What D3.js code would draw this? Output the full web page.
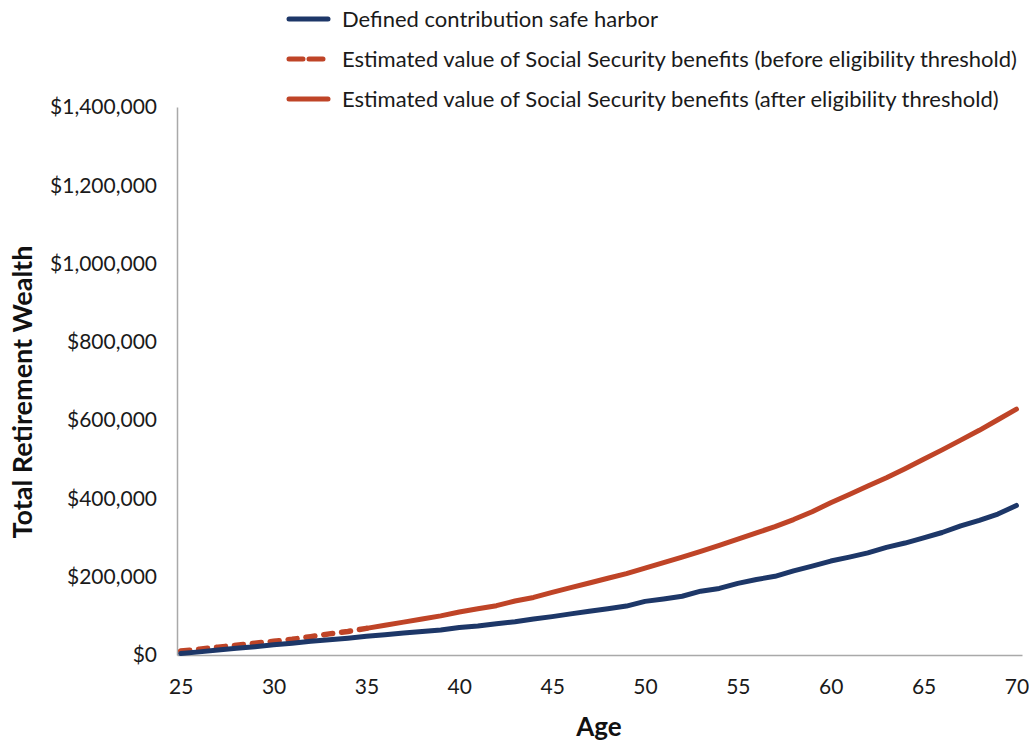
<!DOCTYPE html>
<html>
<head>
<meta charset="utf-8">
<script src="https://cdn.jsdelivr.net/npm/d3@7"></script>
<style>
  html, body { margin: 0; padding: 0; background: #fff; }
  svg { display: block; font-family: Lato, "Noto Sans", sans-serif; }
</style>
</head>
<body>
<svg id="chart" width="1029" height="742"></svg>
<script>
// Ages on the horizontal axis
const ages = d3.range(25, 71);

// Defined contribution safe harbor wealth by age ($)
const dcSafeHarbor = [
  4000, 8000, 13000, 17000, 21000, 26000, 30000, 35000, 39000, 43000,
  48000, 52000, 56000, 60000, 64000, 70000, 74000, 80000, 85000, 92000,
  98000, 105000, 112000, 118000, 125000, 137000, 143000, 150000, 163000, 170000,
  183000, 193000, 201000, 215000, 227000, 240000, 250000, 261000, 275000, 286000,
  299000, 313000, 330000, 344000, 360000, 382000
];

// Estimated value of Social Security benefits by age ($)
const socialSecurity = [
  10000, 15000, 20000, 25000, 30000, 35000, 40000, 47000, 54000, 60000,
  68000, 76000, 84000, 92000, 100000, 110000, 118000, 126000, 138000, 147000,
  160000, 172000, 184000, 196000, 208000, 222000, 236000, 250000, 265000, 280000,
  296000, 312000, 328000, 346000, 366000, 389000, 410000, 432000, 453000, 476000,
  500000, 524000, 549000, 574000, 601000, 628000
];

// Age at which Social Security eligibility is reached
const eligibilityAge = 35;

const xTicks = [25, 30, 35, 40, 45, 50, 55, 60, 65, 70];
const yTicks = [0, 200000, 400000, 600000, 800000, 1000000, 1200000, 1400000];

const legendLabels = [
  "Defined contribution safe harbor",
  "Estimated value of Social Security benefits (before eligibility threshold)",
  "Estimated value of Social Security benefits (after eligibility threshold)"
];

const navy = "#1d3768";
const rust = "#bf4427";
const axisGray = "#a9a9a9";

const svg = d3.select("#chart");

const x = d3.scaleLinear().domain([24.8, 70.3]).range([177, 1022]);
const y = d3.scaleLinear().domain([0, 1400000]).range([655, 107]);

// Axes
const yAxis = svg.append("g")
  .attr("transform", `translate(${x.range()[0]},0)`)
  .call(d3.axisLeft(y).tickValues(yTicks).tickSize(0).tickPadding(20)
    .tickFormat(d => "$" + d3.format(",")(d)));

const xAxis = svg.append("g")
  .attr("transform", `translate(0,${y.range()[0]})`)
  .call(d3.axisBottom(x).tickValues(xTicks).tickSize(0).tickPadding(24)
    .tickFormat(d3.format("d")));

[xAxis, yAxis].forEach(g => {
  g.select(".domain").attr("stroke", axisGray).attr("stroke-width", 1.5);
  g.selectAll("text").attr("font-size", 21).attr("fill", "#1a1a1a")
    .attr("font-family", "Lato, 'Noto Sans', sans-serif");
});

// Axis titles
svg.append("text")
  .attr("x", 599).attr("y", 736)
  .attr("text-anchor", "middle")
  .attr("font-size", 26).attr("font-weight", "bold").attr("fill", "#111")
  .text("Age");

svg.append("text")
  .attr("transform", "translate(32,392) rotate(-90)")
  .attr("text-anchor", "middle")
  .attr("font-size", 27).attr("font-weight", "bold").attr("fill", "#111")
  .text("Total Retirement Wealth");

// Series
const rows = ages.map((a, i) => ({ age: a, dc: dcSafeHarbor[i], ss: socialSecurity[i] }));
const line = key => d3.line().x(d => x(d.age)).y(d => y(d[key]));

const plot = svg.append("g").attr("fill", "none").attr("stroke-linejoin", "round");

plot.append("path")
  .datum(rows.filter(d => d.age >= eligibilityAge))
  .attr("d", line("ss"))
  .attr("stroke", rust).attr("stroke-width", 5).attr("stroke-linecap", "round");

plot.append("path")
  .datum(rows.filter(d => d.age <= eligibilityAge))
  .attr("d", line("ss"))
  .attr("stroke", rust).attr("stroke-width", 5.5)
  .attr("stroke-linecap", "round").attr("stroke-dasharray", "9,9");

plot.append("path")
  .datum(rows)
  .attr("d", line("dc"))
  .attr("stroke", navy).attr("stroke-width", 5).attr("stroke-linecap", "round");

// Legend
const legendStyles = [
  { color: navy, dash: null },
  { color: rust, dash: "14,6" },
  { color: rust, dash: null }
];
const legend = svg.append("g").attr("transform", "translate(287,0)");
legendLabels.forEach((label, i) => {
  const cy = 19 + i * 40;
  legend.append("line")
    .attr("x1", 2).attr("x2", 41).attr("y1", cy).attr("y2", cy)
    .attr("stroke", legendStyles[i].color).attr("stroke-width", 5)
    .attr("stroke-linecap", "round")
    .attr("stroke-dasharray", legendStyles[i].dash);
  legend.append("text")
    .attr("x", 55).attr("y", cy).attr("dy", "0.35em")
    .attr("font-size", 22).attr("fill", "#1a1a1a")
    .text(label);
});
</script>
</body>
</html>
